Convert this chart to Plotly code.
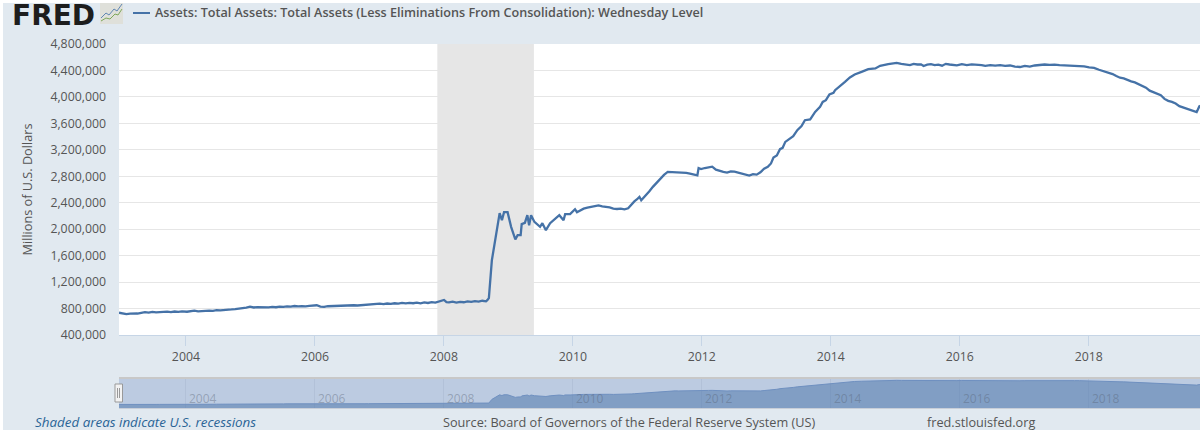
import plotly.graph_objects as go

W, H = 1200, 430

SERIES_NAME = "Assets: Total Assets: Total Assets (Less Eliminations From Consolidation): Wednesday Level"
dates = [
"2002-12-18","2003-01-08","2003-01-29","2003-02-19","2003-03-12","2003-04-02","2003-04-23","2003-05-14","2003-06-04","2003-06-25","2003-07-16","2003-08-06","2003-08-27","2003-09-17","2003-10-08","2003-10-29","2003-11-19","2003-12-10",
"2004-01-07","2004-01-28","2004-02-18","2004-03-10","2004-03-31","2004-04-21","2004-05-12","2004-06-02","2004-06-23","2004-07-14","2004-08-04","2004-08-25","2004-09-15","2004-10-06","2004-10-27","2004-11-17","2004-12-08","2004-12-29",
"2005-01-19","2005-02-09","2005-03-02","2005-03-23","2005-04-13","2005-05-04","2005-05-25","2005-06-15","2005-07-06","2005-07-27","2005-08-17","2005-09-07","2005-09-28","2005-10-19","2005-11-09","2005-11-30","2005-12-21",
"2006-01-11","2006-02-01","2006-02-22","2006-03-15","2006-04-05","2006-04-26","2006-05-17","2006-06-07","2006-06-28","2006-07-19","2006-08-09","2006-08-30","2006-09-20","2006-10-11","2006-11-01","2006-11-22","2006-12-13",
"2007-01-03","2007-01-24","2007-02-14","2007-03-07","2007-03-28","2007-04-18","2007-05-09","2007-05-30","2007-06-20","2007-07-11","2007-08-01","2007-08-22","2007-09-12","2007-10-03","2007-10-24","2007-11-14","2007-12-05","2007-12-19",
"2008-01-02","2008-01-16","2008-01-30","2008-02-20","2008-03-12","2008-04-02","2008-04-23","2008-05-14","2008-06-04","2008-06-25","2008-07-16","2008-08-06","2008-08-27","2008-09-03","2008-09-12","2008-09-29","2008-10-17","2008-11-12","2008-11-25","2008-12-07","2008-12-27",
"2009-01-16","2009-02-09","2009-02-22","2009-03-11","2009-03-17","2009-04-04","2009-04-18","2009-04-28","2009-05-09","2009-05-28","2009-06-29","2009-07-12","2009-08-01","2009-08-25","2009-09-22","2009-10-16","2009-11-09","2009-11-18","2009-12-16",
"2010-01-13","2010-01-24","2010-02-10","2010-03-03","2010-03-24","2010-04-14","2010-05-05","2010-05-26","2010-06-16","2010-07-07","2010-07-28","2010-08-18","2010-09-08","2010-09-29","2010-10-20","2010-11-10","2010-12-01","2010-12-15","2010-12-29",
"2011-01-13","2011-01-23","2011-02-16","2011-03-09","2011-03-30","2011-04-20","2011-05-11","2011-06-01","2011-06-22","2011-07-13","2011-08-03","2011-08-24","2011-09-14","2011-10-05","2011-10-26","2011-11-16","2011-12-07","2011-12-14","2011-12-28",
"2012-01-18","2012-02-08","2012-02-29","2012-03-21","2012-04-11","2012-05-02","2012-05-23","2012-06-13","2012-07-04","2012-07-25","2012-08-15","2012-09-05","2012-09-26","2012-10-17","2012-11-07","2012-11-28","2012-12-19",
"2013-01-09","2013-01-27","2013-02-10","2013-03-01","2013-03-19","2013-04-03","2013-04-18","2013-05-13","2013-06-02","2013-06-25","2013-07-19","2013-08-07","2013-09-06","2013-10-04","2013-11-01","2013-11-16","2013-12-04","2013-12-24",
"2014-01-16","2014-01-25","2014-02-23","2014-03-22","2014-04-19","2014-05-16","2014-06-24","2014-08-01","2014-09-10","2014-10-07","2014-11-22",
"2015-01-09","2015-02-04","2015-03-04","2015-03-25","2015-04-15","2015-05-06","2015-05-27","2015-06-10","2015-07-01","2015-07-22","2015-08-12","2015-09-02","2015-09-23","2015-10-14","2015-11-04","2015-11-25","2015-12-16",
"2016-01-13","2016-02-10","2016-03-09","2016-04-06","2016-05-04","2016-05-25","2016-06-22","2016-07-20","2016-08-17","2016-09-14","2016-10-12","2016-11-09","2016-12-07",
"2017-01-04","2017-02-01","2017-03-01","2017-03-29","2017-04-26","2017-05-24","2017-06-21","2017-07-19","2017-08-16","2017-09-13","2017-10-11","2017-11-08","2017-12-06",
"2018-01-03","2018-01-31","2018-02-28","2018-03-21","2018-04-18","2018-05-16","2018-06-06","2018-06-27","2018-07-18","2018-08-08","2018-08-29","2018-09-19","2018-10-10","2018-10-31","2018-11-21","2018-12-12",
"2019-01-02","2019-01-23","2019-02-13","2019-03-06","2019-03-27","2019-04-17","2019-05-08","2019-05-29","2019-06-19","2019-07-10","2019-07-31","2019-08-21","2019-09-04","2019-09-18","2019-09-23",
]
assets_thousands = [
737,725,716,722,718,725,736,745,738,750,743,748,742,752,746,755,750,757,
752,762,768,758,764,760,770,766,775,772,780,778,786,792,798,806,815,828,
816,822,818,825,818,824,820,830,826,834,830,838,832,838,834,842,846,
850,830,826,835,838,836,845,840,848,844,850,846,852,848,856,860,866,
874,868,876,872,880,874,885,878,886,880,888,878,892,884,898,890,905,920,
930,896,892,905,890,902,895,908,900,912,906,918,910,926,957,1531,1808,2242,2136,2257,2257,
2035,1844,1909,1909,2076,2095,2212,2060,2212,2110,2035,2090,1985,2090,2151,2212,2136,2227,2227,
2302,2257,2285,2310,2325,2335,2350,2360,2345,2340,2330,2312,2305,2310,2300,2315,2389,2420,2449,
2489,2438,2500,2570,2640,2700,2770,2820,2865,2862,2870,2858,2860,2850,2840,2830,2815,2925,2910,
2925,2935,2945,2900,2880,2865,2855,2875,2870,2855,2845,2825,2810,2832,2825,2860,2915,
2942,2994,3084,3115,3210,3230,3320,3372,3406,3497,3558,3648,3659,3774,3850,3925,3951,4037,
4061,4102,4163,4228,4294,4340,4379,4420,4430,4470,4495,
4515,4500,4490,4482,4500,4490,4492,4468,4488,4495,4480,4488,4472,4500,4490,4488,4478,
4495,4482,4492,4490,4482,4470,4480,4472,4480,4470,4475,4458,4452,
4470,4458,4475,4485,4490,4484,4488,4480,4478,4470,4472,4470,4462,
4448,4440,4410,4395,4370,4345,4315,4290,4280,4255,4235,4220,4190,4170,4140,4095,
4070,4055,4025,3970,3940,3925,3900,3860,3840,3825,3805,3780,3770,3850,3875,
]
assert len(dates) == len(assets_thousands)
assets = [v * 1000 for v in assets_thousands]
recession = ["2007-11-25", "2009-05-25"]
x_range = ["2002-12-18", "2019-09-23"]
y_ticks = [400000 * i for i in range(1, 13)]
nav_years = ["2004", "2006", "2008", "2010", "2012", "2014", "2016", "2018"]
FOOT_LEFT = "Shaded areas indicate U.S. recessions"
FOOT_MID = "Source: Board of Governors of the Federal Reserve System (US)"
FOOT_RIGHT = "fred.stlouisfed.org"

FONT = "Open Sans"
BG = "#e1e9f0"
INK = "#555555"
LINE = "#4572a7"


def px(x):
    return x / W


def py(y):
    return 1 - y / H


fig = go.Figure()
fig.add_trace(go.Scatter(x=dates, y=assets, mode="lines", name=SERIES_NAME,
                         line=dict(color=LINE, width=2.3), xaxis="x", yaxis="y", showlegend=False))
fig.add_trace(go.Scatter(x=dates, y=assets, mode="lines", fill="tozeroy", name="navigator",
                         line=dict(color="#6f90c0", width=1), fillcolor="rgba(69,114,167,0.5)",
                         xaxis="x2", yaxis="y2", showlegend=False, hoverinfo="skip"))

shapes = [
    dict(type="rect", xref="paper", yref="paper", x0=px(3), x1=1, y0=0, y1=py(3),
         fillcolor=BG, line_width=0, layer="below"),
    dict(type="rect", xref="paper", yref="paper", x0=px(119), x1=1, y0=py(335), y1=py(44),
         fillcolor="#ffffff", line_width=0, layer="below"),
    dict(type="rect", xref="x", yref="paper", x0=recession[0], x1=recession[1], y0=py(335), y1=py(44),
         fillcolor="#e6e6e6", line_width=0, layer="below"),
    dict(type="rect", xref="paper", yref="paper", x0=px(119), x1=1, y0=py(408), y1=py(378),
         fillcolor="#bccbe1", line_width=0, layer="below"),
    dict(type="line", xref="paper", yref="paper", x0=px(119), x1=1, y0=py(378), y1=py(378),
         line=dict(color="#c8c8c8", width=2)),
    dict(type="line", xref="paper", yref="paper", x0=px(119), x1=1, y0=py(408.5), y1=py(408.5),
         line=dict(color="#c8ced8", width=1)),
    dict(type="rect", xref="paper", yref="paper", x0=px(115), x1=px(122.5), y0=py(402), y1=py(384),
         fillcolor="#f2f2f2", line=dict(color="#999999", width=1)),
    dict(type="line", xref="paper", yref="paper", x0=px(117.5), x1=px(117.5), y0=py(398), y1=py(388),
         line=dict(color="#999999", width=1)),
    dict(type="line", xref="paper", yref="paper", x0=px(119.5), x1=px(119.5), y0=py(398), y1=py(388),
         line=dict(color="#999999", width=1)),
    dict(type="line", xref="paper", yref="paper", x0=px(133), x1=px(150), y0=py(13), y1=py(13),
         line=dict(color=LINE, width=2)),
    dict(type="rect", xref="paper", yref="paper", x0=px(100), x1=px(123), y0=py(24), y1=py(3),
         fillcolor="#dfe0da", line_width=0),
    dict(type="path", xref="paper", yref="paper",
         path=" ".join(f"{'M' if i == 0 else 'L'} {px(a)} {py(b)}" for i, (a, b) in enumerate(
             [(101, 18), (106, 13), (109, 15), (114, 9), (117, 11), (122, 4)])),
         line=dict(color="#5f86b3", width=1)),
    dict(type="path", xref="paper", yref="paper",
         path=" ".join(f"{'M' if i == 0 else 'L'} {px(a)} {py(b)}" for i, (a, b) in enumerate(
             [(101, 21), (106, 18), (110, 19), (115, 14), (118, 15), (122, 9)])),
         line=dict(color="#7fa85a", width=1)),
]

annotations = [
    dict(text="FRED", x=px(10), y=1, xref="paper", yref="paper", xanchor="left", yanchor="top",
         height=26, showarrow=False, font=dict(family="DejaVu Sans", size=28, color="#1d1d1d", weight=700)),
    dict(text=SERIES_NAME, x=px(153), y=py(13), xref="paper", yref="paper", xanchor="left", yanchor="middle",
         showarrow=False, font=dict(family=FONT, size=12.6, color=INK, weight=600)),
    dict(text=FOOT_LEFT, x=px(33), y=py(422), xref="paper", yref="paper", xanchor="left", yanchor="middle",
         showarrow=False, font=dict(family=FONT, size=13.4, color="#2a6496", style="italic")),
    dict(text=FOOT_MID, x=px(441), y=py(422), xref="paper", yref="paper", xanchor="left", yanchor="middle",
         showarrow=False, font=dict(family=FONT, size=12.7, color=INK)),
    dict(text=FOOT_RIGHT, x=px(925), y=py(422), xref="paper", yref="paper", xanchor="left", yanchor="middle",
         showarrow=False, font=dict(family=FONT, size=12.7, color=INK)),
]
for yr in nav_years:
    annotations.append(dict(text=yr, x=f"{yr}-01-01", y=py(398), xref="x2", yref="paper",
                            xanchor="left", yanchor="middle", xshift=1, showarrow=False,
                            font=dict(family=FONT, size=12, color="rgba(85,95,115,0.4)")))

fig.update_layout(
    width=W, height=H, autosize=False,
    margin=dict(l=0, r=0, t=0, b=0, pad=0, autoexpand=False),
    paper_bgcolor="#ffffff", plot_bgcolor="rgba(0,0,0,0)",
    showlegend=False,
    font=dict(family=FONT, size=12, color=INK),
    shapes=shapes, annotations=annotations,
    xaxis=dict(domain=[px(119), 1], range=x_range, type="date", anchor="y",
               tick0="2004-01-01", dtick="M24", tickformat="%Y",
               showgrid=False, zeroline=False, showline=True, linecolor="#c6d5e6", linewidth=1,
               ticks="outside", ticklen=10, tickcolor="#c6d5e6", tickwidth=1,
               tickfont=dict(family=FONT, size=12.3, color=INK)),
    yaxis=dict(domain=[py(335), py(44)], range=[400000, 4800000], anchor="x",
               tickvals=y_ticks, tickformat=",d", showgrid=True, gridcolor="#e6e6e6", gridwidth=1,
               zeroline=False, showline=False, ticks="", ticklabelstandoff=12,
               tickfont=dict(family=FONT, size=12.3, color=INK),
               title=dict(text="Millions of U.S. Dollars", font=dict(family=FONT, size=12.7, color=INK), standoff=14)),
    xaxis2=dict(domain=[px(119), 1], range=x_range, type="date", anchor="y2",
                tick0="2004-01-01", dtick="M24", showticklabels=False, ticks="",
                showgrid=True, gridcolor="rgba(120,140,170,0.15)", gridwidth=1, zeroline=False, showline=False),
    yaxis2=dict(domain=[py(408), py(378)], range=[180000, 4885000], anchor="x2",
                showticklabels=False, showgrid=False, zeroline=False, showline=False, ticks=""),
)

fig.write_html("out.html", config=dict(displayModeBar=False),
               post_script="document.body.style.margin='0';document.body.style.overflow='hidden';")
